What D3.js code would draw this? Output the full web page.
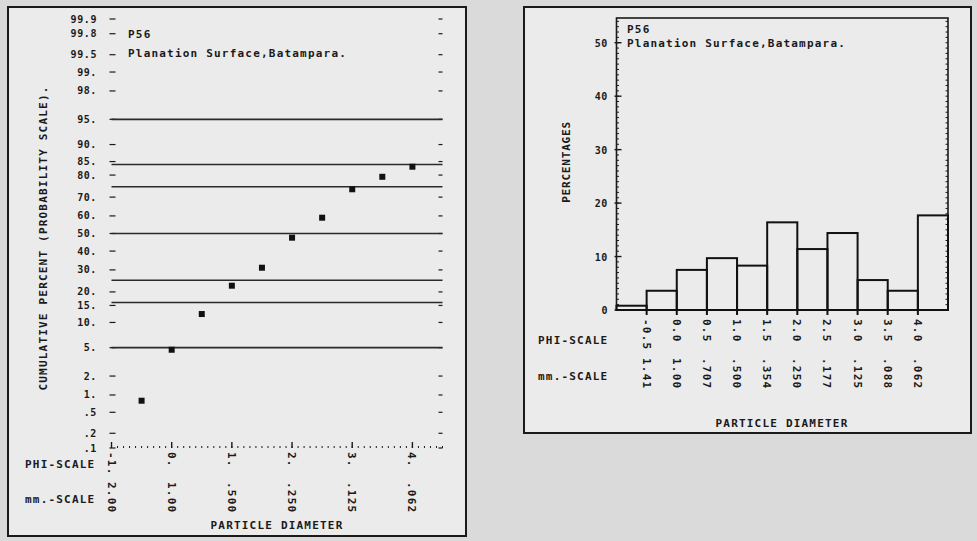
<!DOCTYPE html>
<html>
<head>
<meta charset="utf-8">
<script src="https://cdn.jsdelivr.net/npm/d3@7"></script>
<style>
  body { margin: 0; background: #dadada; }
  svg text { font-family: "DejaVu Sans Mono", monospace; font-weight: bold; fill: #1a1a1a; }
</style>
</head>
<body>
<div id="vis"></div>
<script>
// cumulative curve (probability paper)
var phiPoints = [-0.5, 0.0, 0.5, 1.0, 1.5, 2.0, 2.5, 3.0, 3.5, 4.0];
var cumPercent = [0.8, 4.7, 12.3, 22.6, 31.1, 47.6, 59.0, 73.8, 79.3, 83.2];
var percentileLines = [5, 16, 25, 50, 75, 84, 95];
var probTicks = [0.1, 0.2, 0.5, 1, 2, 5, 10, 15, 20, 30, 40, 50, 60, 70, 80, 85, 90, 95, 98, 99, 99.5, 99.8, 99.9];
var probLabels = [".1", ".2", ".5", "1.", "2.", "5.", "10.", "15.", "20.", "30.", "40.", "50.", "60.", "70.", "80.", "85.", "90.", "95.", "98.", "99.", "99.5", "99.8", "99.9"];
var phiTicksL = [-1, 0, 1, 2, 3, 4];
var phiLabelsL = ["-1.", "0.", "1.", "2.", "3.", "4."];
var mmLabelsL = ["2.00", "1.00", ".500", ".250", ".125", ".062"];

// histogram
var binStart = [-1.0, -0.5, 0.0, 0.5, 1.0, 1.5, 2.0, 2.5, 3.0, 3.5, 4.0];
var binPercent = [0.8, 3.6, 7.5, 9.7, 8.3, 16.4, 11.4, 14.4, 5.6, 3.6, 17.7];
var pctTicks = [0, 10, 20, 30, 40, 50];
var phiTicksR = [-0.5, 0.0, 0.5, 1.0, 1.5, 2.0, 2.5, 3.0, 3.5, 4.0];
var phiLabelsR = ["-0.5", "0.0", "0.5", "1.0", "1.5", "2.0", "2.5", "3.0", "3.5", "4.0"];
var mmLabelsR = ["1.41", "1.00", ".707", ".500", ".354", ".250", ".177", ".125", ".088", ".062"];

var sampleId = "P56";
var sampleName = "Planation Surface,Batampara.";

// inverse normal cdf (Acklam)
function probit(p) {
  var a = [-39.69683028665376, 220.9460984245205, -275.9285104469687, 138.3577518672690, -30.66479806614716, 2.506628277459239];
  var b = [-54.47609879822406, 161.5858368580409, -155.6989798598866, 66.80131188771972, -13.28068155288572];
  var c = [-0.007784894002430293, -0.3223964580411365, -2.400758277161838, -2.549671010469250, 4.374664141464968, 2.938163982698783];
  var d = [0.007784695709041462, 0.3224671290700398, 2.445134137142996, 3.754408661907416];
  var q, r;
  if (p < 0.02425) {
    q = Math.sqrt(-2 * Math.log(p));
    return (((((c[0]*q+c[1])*q+c[2])*q+c[3])*q+c[4])*q+c[5]) / ((((d[0]*q+d[1])*q+d[2])*q+d[3])*q+1);
  }
  if (p > 1 - 0.02425) {
    q = Math.sqrt(-2 * Math.log(1 - p));
    return -(((((c[0]*q+c[1])*q+c[2])*q+c[3])*q+c[4])*q+c[5]) / ((((d[0]*q+d[1])*q+d[2])*q+d[3])*q+1);
  }
  q = p - 0.5; r = q * q;
  return (((((a[0]*r+a[1])*r+a[2])*r+a[3])*r+a[4])*r+a[5])*q / (((((b[0]*r+b[1])*r+b[2])*r+b[3])*r+b[4])*r+1);
}

var svg = d3.select("#vis").append("svg")
  .attr("width", 977).attr("height", 541);

svg.append("rect").attr("width", 977).attr("height", 541).attr("fill", "#dadada");

function label(g, txt, x, y, size, anchor) {
  return g.append("text")
    .attr("x", x).attr("y", y)
    .attr("font-size", size)
    .attr("letter-spacing", size > 10 ? 1.2 : 0.6)
    .attr("text-anchor", anchor || "start")
    .text(txt);
}

// ---------------- left chart ----------------
var L = svg.append("g");
L.append("rect").attr("x", 8).attr("y", 7).attr("width", 458).attr("height", 529)
  .attr("fill", "#ebebeb").attr("stroke", "#1a1a1a").attr("stroke-width", 2);

var lx = d3.scaleLinear().domain([-1, 4.5]).range([111.5, 442.5]);
var lz = d3.scaleLinear().domain([probit(0.001), probit(0.999)]).range([448, 19]);
function ly(p) { return lz(probit(p / 100)); }

var left = lx.range()[0], right = lx.range()[1], top = 19, bottom = 448;

L.append("rect").attr("x", left).attr("y", top).attr("width", right - left).attr("height", bottom - top)
  .attr("fill", "none").attr("stroke", "#1a1a1a").attr("stroke-width", 1.6);

// minor ticks along top and bottom (0.1 phi)
var minor = d3.range(-1, 4.51, 0.1);
L.selectAll(".mt").data(minor).enter().append("line")
  .attr("x1", function(d){ return lx(d); }).attr("x2", function(d){ return lx(d); })
  .attr("y1", top).attr("y2", top + 2).attr("stroke", "#1a1a1a").attr("stroke-width", 1);
L.selectAll(".mb").data(minor).enter().append("line")
  .attr("x1", function(d){ return lx(d); }).attr("x2", function(d){ return lx(d); })
  .attr("y1", bottom).attr("y2", bottom - 2).attr("stroke", "#1a1a1a").attr("stroke-width", 1);
L.selectAll(".Mt").data(phiTicksL).enter().append("line")
  .attr("x1", function(d){ return lx(d); }).attr("x2", function(d){ return lx(d); })
  .attr("y1", top).attr("y2", top + 6).attr("stroke", "#1a1a1a").attr("stroke-width", 1.4);
L.selectAll(".Mb").data(phiTicksL).enter().append("line")
  .attr("x1", function(d){ return lx(d); }).attr("x2", function(d){ return lx(d); })
  .attr("y1", bottom).attr("y2", bottom - 6).attr("stroke", "#1a1a1a").attr("stroke-width", 1.4);

// y ticks both sides
L.selectAll(".yl").data(probTicks).enter().append("line")
  .attr("x1", left - 2).attr("x2", left + 4)
  .attr("y1", function(d){ return ly(d); }).attr("y2", function(d){ return ly(d); })
  .attr("stroke", "#1a1a1a").attr("stroke-width", 1.2);
L.selectAll(".yr").data(probTicks).enter().append("line")
  .attr("x1", right - 4).attr("x2", right)
  .attr("y1", function(d){ return ly(d); }).attr("y2", function(d){ return ly(d); })
  .attr("stroke", "#1a1a1a").attr("stroke-width", 1.2);
probTicks.forEach(function(p, i) {
  label(L, probLabels[i], 97, ly(p) + 3.5, 10, "end");
});

// percentile lines
L.selectAll(".pl").data(percentileLines).enter().append("line")
  .attr("x1", left).attr("x2", right)
  .attr("y1", function(d){ return ly(d); }).attr("y2", function(d){ return ly(d); })
  .attr("stroke", "#2a2a2a").attr("stroke-width", 1.6);

// points
L.selectAll(".pt").data(phiPoints).enter().append("rect")
  .attr("x", function(d){ return lx(d) - 3; })
  .attr("y", function(d, i){ return ly(cumPercent[i]) - 3; })
  .attr("width", 6).attr("height", 6).attr("fill", "#111");

label(L, sampleId, 128, 38, 11);
label(L, sampleName, 128, 57, 11);

L.append("text")
  .attr("transform", "translate(47," + 238 + ") rotate(-90)")
  .attr("text-anchor", "middle").attr("font-size", 11).attr("letter-spacing", 1.2)
  .text("CUMULATIVE PERCENT (PROBABILITY SCALE).");

label(L, "PHI-SCALE", 25, 468, 11);
label(L, "mm.-SCALE", 25, 503, 11);
phiTicksL.forEach(function(v, i) {
  L.append("text").attr("transform", "translate(" + (lx(v) - 4) + ",452) rotate(90)")
    .attr("font-size", 11).attr("letter-spacing", 1.2).text(phiLabelsL[i]);
  L.append("text").attr("transform", "translate(" + (lx(v) - 4) + ",482) rotate(90)")
    .attr("font-size", 11).attr("letter-spacing", 1.2).text(mmLabelsL[i]);
});
label(L, "PARTICLE DIAMETER", 277, 529, 11, "middle");

// ---------------- right chart (histogram) ----------------
var R = svg.append("g");
R.append("rect").attr("x", 524).attr("y", 7).attr("width", 447).attr("height", 426)
  .attr("fill", "#ebebeb").attr("stroke", "#1a1a1a").attr("stroke-width", 2);

var rx = d3.scaleLinear().domain([-1, 4.5]).range([616.5, 948]);
var ry = d3.scaleLinear().domain([0, 55]).range([310, 16]);
var rl = rx.range()[0], rr = rx.range()[1], rt = 18, rb = ry(0);

R.append("rect").attr("x", rl).attr("y", rt).attr("width", rr - rl).attr("height", rb - rt)
  .attr("fill", "none").attr("stroke", "#1a1a1a").attr("stroke-width", 1.6);

var ones = d3.range(0, 55, 1);
R.selectAll(".ml").data(ones).enter().append("line")
  .attr("x1", rl).attr("x2", rl + 2.5)
  .attr("y1", function(d){ return ry(d); }).attr("y2", function(d){ return ry(d); })
  .attr("stroke", "#1a1a1a").attr("stroke-width", 1);
R.selectAll(".mr").data(ones).enter().append("line")
  .attr("x1", rr - 2.5).attr("x2", rr)
  .attr("y1", function(d){ return ry(d); }).attr("y2", function(d){ return ry(d); })
  .attr("stroke", "#1a1a1a").attr("stroke-width", 1);
R.selectAll(".Ml").data(pctTicks).enter().append("line")
  .attr("x1", rl - 2).attr("x2", rl + 5)
  .attr("y1", function(d){ return ry(d); }).attr("y2", function(d){ return ry(d); })
  .attr("stroke", "#1a1a1a").attr("stroke-width", 1.4);
pctTicks.forEach(function(v) {
  label(R, String(v), 608, ry(v) + 4, 10, "end");
});

R.selectAll(".bar").data(binStart).enter().append("rect")
  .attr("x", function(d){ return rx(d); })
  .attr("y", function(d, i){ return ry(binPercent[i]); })
  .attr("width", function(d){ return rx(d + 0.5) - rx(d); })
  .attr("height", function(d, i){ return rb - ry(binPercent[i]); })
  .attr("fill", "none").attr("stroke", "#111").attr("stroke-width", 2);

R.selectAll(".bt").data(phiTicksR).enter().append("line")
  .attr("x1", function(d){ return rx(d); }).attr("x2", function(d){ return rx(d); })
  .attr("y1", rb).attr("y2", rb + 5).attr("stroke", "#111").attr("stroke-width", 2);

label(R, sampleId, 627, 33, 11);
label(R, sampleName, 627, 47, 11);

R.append("text")
  .attr("transform", "translate(570,162) rotate(-90)")
  .attr("text-anchor", "middle").attr("font-size", 11).attr("letter-spacing", 0.8)
  .text("PERCENTAGES");

label(R, "PHI-SCALE", 538, 344, 11);
label(R, "mm.-SCALE", 538, 380, 11);
phiTicksR.forEach(function(v, i) {
  R.append("text").attr("transform", "translate(" + (rx(v) - 4) + ",319) rotate(90)")
    .attr("font-size", 11).attr("letter-spacing", 1.2).text(phiLabelsR[i]);
  R.append("text").attr("transform", "translate(" + (rx(v) - 4) + ",358) rotate(90)")
    .attr("font-size", 11).attr("letter-spacing", 1.2).text(mmLabelsR[i]);
});
label(R, "PARTICLE DIAMETER", 782, 427, 11, "middle");
</script>
</body>
</html>
